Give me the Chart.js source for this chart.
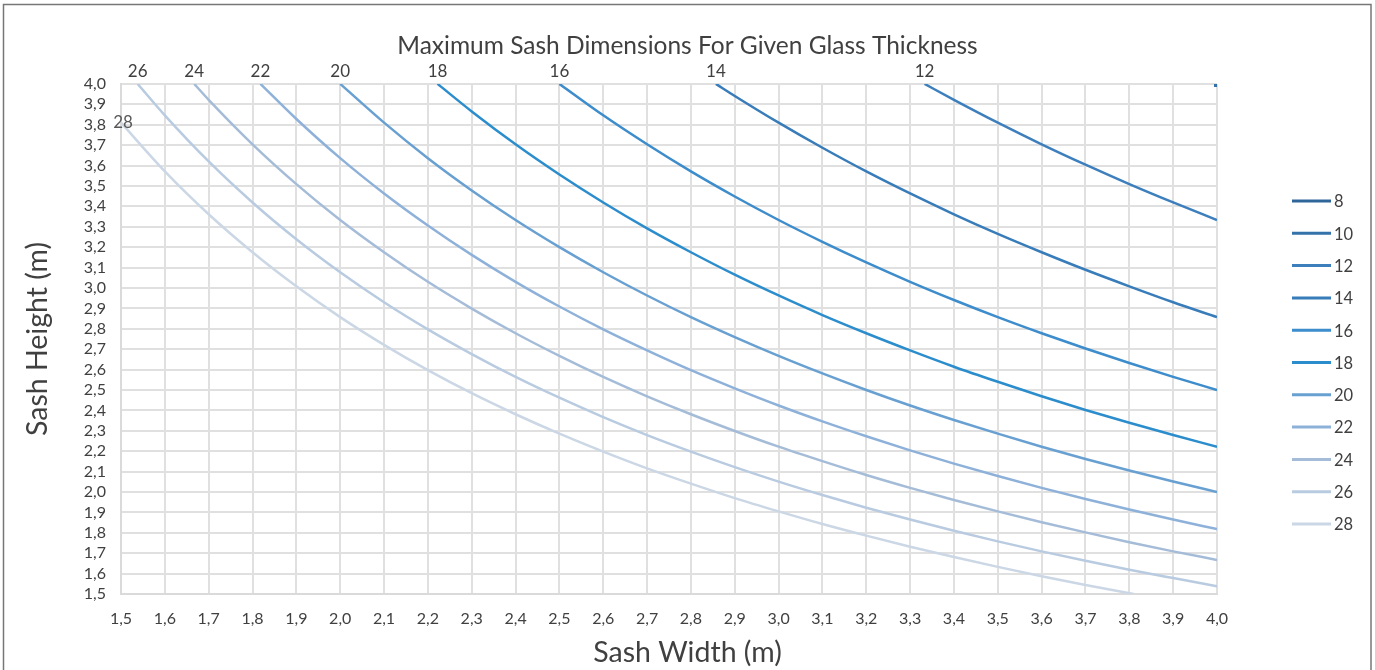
<!DOCTYPE html>
<html>
<head>
<meta charset="utf-8">
<script src="https://cdn.jsdelivr.net/npm/chart.js@4.4.1/dist/chart.umd.min.js"></script>
<style>
    html, body { margin: 0; padding: 0; background: #fff; }
</style>
</head>
<body>
<canvas id="sash_chart" width="1375" height="670"></canvas>
<script>
const sash_chart = document.querySelector('#sash_chart')

// glass thickness per series
const thickness = [8, 10, 12, 14, 16, 18, 20, 22, 24, 26, 28]

// sash width (x) / sash height (y), in metres
const w8 = []
const h8 = []
const w10 = [4.0]
const h10 = [4.0]
const w12 = [3.333, 3.4, 3.5, 3.6, 3.7, 3.8, 3.9, 4.0]
const h12 = [4.000, 3.922, 3.810, 3.704, 3.604, 3.509, 3.419, 3.333]
const w14 = [2.857, 2.9, 3.0, 3.1, 3.2, 3.3, 3.4, 3.5, 3.6, 3.7, 3.8, 3.9, 4.0]
const h14 = [4.000, 3.941, 3.810, 3.687, 3.571, 3.463, 3.361, 3.265, 3.175, 3.089, 3.008, 2.930, 2.857]
const w16 = [2.5, 2.6, 2.7, 2.8, 2.9, 3.0, 3.1, 3.2, 3.3, 3.4, 3.5, 3.6, 3.7, 3.8, 3.9, 4.0]
const h16 = [4.000, 3.846, 3.704, 3.571, 3.448, 3.333, 3.226, 3.125, 3.030, 2.941, 2.857, 2.778, 2.703, 2.632, 2.564, 2.500]
const w18 = [2.222, 2.3, 2.4, 2.5, 2.6, 2.7, 2.8, 2.9, 3.0, 3.1, 3.2, 3.3, 3.4, 3.5, 3.6, 3.7, 3.8, 3.9, 4.0]
const h18 = [4.000, 3.865, 3.704, 3.556, 3.419, 3.292, 3.175, 3.065, 2.963, 2.867, 2.778, 2.694, 2.614, 2.540, 2.469, 2.402, 2.339, 2.279, 2.222]
const w20 = [2.0, 2.1, 2.2, 2.3, 2.4, 2.5, 2.6, 2.7, 2.8, 2.9, 3.0, 3.1, 3.2, 3.3, 3.4, 3.5, 3.6, 3.7, 3.8, 3.9, 4.0]
const h20 = [4.000, 3.810, 3.636, 3.478, 3.333, 3.200, 3.077, 2.963, 2.857, 2.759, 2.667, 2.581, 2.500, 2.424, 2.353, 2.286, 2.222, 2.162, 2.105, 2.051, 2.000]
const w22 = [1.818, 1.9, 2.0, 2.1, 2.2, 2.3, 2.4, 2.5, 2.6, 2.7, 2.8, 2.9, 3.0, 3.1, 3.2, 3.3, 3.4, 3.5, 3.6, 3.7, 3.8, 3.9, 4.0]
const h22 = [4.000, 3.828, 3.636, 3.463, 3.306, 3.162, 3.030, 2.909, 2.797, 2.694, 2.597, 2.508, 2.424, 2.346, 2.273, 2.204, 2.139, 2.078, 2.020, 1.966, 1.914, 1.865, 1.818]
const w24 = [1.667, 1.7, 1.8, 1.9, 2.0, 2.1, 2.2, 2.3, 2.4, 2.5, 2.6, 2.7, 2.8, 2.9, 3.0, 3.1, 3.2, 3.3, 3.4, 3.5, 3.6, 3.7, 3.8, 3.9, 4.0]
const h24 = [4.000, 3.922, 3.704, 3.509, 3.333, 3.175, 3.030, 2.899, 2.778, 2.667, 2.564, 2.469, 2.381, 2.299, 2.222, 2.151, 2.083, 2.020, 1.961, 1.905, 1.852, 1.802, 1.754, 1.709, 1.667]
const w26 = [1.538, 1.6, 1.7, 1.8, 1.9, 2.0, 2.1, 2.2, 2.3, 2.4, 2.5, 2.6, 2.7, 2.8, 2.9, 3.0, 3.1, 3.2, 3.3, 3.4, 3.5, 3.6, 3.7, 3.8, 3.9, 4.0]
const h26 = [4.000, 3.846, 3.620, 3.419, 3.239, 3.077, 2.930, 2.797, 2.676, 2.564, 2.462, 2.367, 2.279, 2.198, 2.122, 2.051, 1.985, 1.923, 1.865, 1.810, 1.758, 1.709, 1.663, 1.619, 1.578, 1.538]
const w28 = [1.5, 1.6, 1.7, 1.8, 1.9, 2.0, 2.1, 2.2, 2.3, 2.4, 2.5, 2.6, 2.7, 2.8, 2.9, 3.0, 3.1, 3.2, 3.3, 3.4, 3.5, 3.6, 3.7, 3.81]
const h28 = [3.810, 3.571, 3.361, 3.175, 3.008, 2.857, 2.721, 2.597, 2.484, 2.381, 2.286, 2.198, 2.116, 2.041, 1.970, 1.905, 1.843, 1.786, 1.732, 1.681, 1.633, 1.587, 1.544, 1.500]

const widths = [w8, w10, w12, w14, w16, w18, w20, w22, w24, w26, w28]
const heights = [h8, h10, h12, h14, h16, h18, h20, h22, h24, h26, h28]

const colors = [
    '#2f6699', '#3572aa', '#3d7fbd', '#387cb9', '#3d8ccb', '#2c8dcc',
    '#68a0d2', '#8eb1da', '#a5bcd8', '#b9cbe0', '#cbd7e5'
]

const fontFamily = 'Lato, "Open Sans", sans-serif'
const textColor = '#404040'
const comma = value => value.toFixed(1).replace('.', ',')

const datasets = thickness.map((t, i) => ({
    label: String(t),
    data: widths[i].map((w, j) => ({ x: w, y: heights[i][j] })),
    borderColor: colors[i],
    backgroundColor: colors[i],
    borderWidth: 2.5,
    cubicInterpolationMode: 'monotone',
    pointRadius: widths[i].length === 1 ? 2.5 : 0,
    pointStyle: 'rect',
    showEndLabel: t >= 12
}))

// series names next to the first point of each curve
const endLabels = {
    id: 'endLabels',
    afterDatasetsDraw(chart) {
        const ctx = chart.ctx
        const area = chart.chartArea
        ctx.save()
        ctx.font = '17px ' + fontFamily
        ctx.textAlign = 'center'
        ctx.textBaseline = 'middle'
        chart.data.datasets.forEach((ds, i) => {
            if (!ds.showEndLabel) return
            const el = chart.getDatasetMeta(i).data[0]
            if (!el) return
            if (el.y <= area.top + 1) {
                ctx.fillStyle = textColor
                ctx.fillText(ds.label, el.x, area.top - 12)
            } else {
                ctx.fillStyle = '#595959'
                ctx.fillText(ds.label, el.x + 2, el.y)
            }
        })
        ctx.restore()
    }
}

// legend on the right as line samples, x-axis title centred on the page
const sideLegend = {
    id: 'sideLegend',
    afterDraw(chart) {
        const ctx = chart.ctx
        const x0 = 1292
        const y0 = 201
        const step = 32.3
        ctx.save()
        ctx.font = '16.5px ' + fontFamily
        ctx.textBaseline = 'middle'
        ctx.textAlign = 'left'
        chart.data.datasets.forEach((ds, i) => {
            const y = y0 + i * step
            ctx.strokeStyle = ds.borderColor
            ctx.lineWidth = 3
            ctx.beginPath()
            ctx.moveTo(x0, y)
            ctx.lineTo(x0 + 39, y)
            ctx.stroke()
            ctx.fillStyle = textColor
            ctx.fillText(ds.label, x0 + 42, y + 1)
        })
        ctx.font = '28.5px ' + fontFamily
        ctx.textAlign = 'center'
        ctx.fillText('Sash Width (m)', chart.width / 2, 653)
        ctx.restore()
    }
}

// outer frame of the chart
const frame = {
    id: 'frame',
    beforeDraw(chart) {
        const ctx = chart.ctx
        ctx.save()
        ctx.fillStyle = '#ffffff'
        ctx.fillRect(0, 0, chart.width, chart.height)
        ctx.strokeStyle = '#777777'
        ctx.lineWidth = 1.5
        ctx.strokeRect(3.5, 4.5, 1367.5, 700)
        ctx.restore()
    }
}

const options_sash = {
    responsive: false,
    animation: false,
    layout: {
        padding: 0
    },
    plugins: {
        legend: { display: false },
        tooltip: { enabled: false },
        title: {
            display: true,
            text: 'Maximum Sash Dimensions For Given Glass Thickness',
            color: textColor,
            font: { family: fontFamily, size: 24.5, weight: 'normal' },
            padding: { top: 31, bottom: 23.5 }
        }
    },
    scales: {
        x: {
            type: 'linear',
            min: 1.5,
            max: 4.0,
            afterFit: scale => { scale.height = 76 },
            ticks: {
                stepSize: 0.1,
                autoSkip: false,
                maxRotation: 0,
                padding: 15,
                color: textColor,
                font: { family: fontFamily, size: 16 },
                callback: comma
            },
            grid: { color: '#e0e0e0', lineWidth: 2, drawTicks: false },
            border: { color: '#dadada', width: 2 }
        },
        y: {
            type: 'linear',
            min: 1.5,
            max: 4.0,
            afterFit: scale => { scale.width = 121 },
            ticks: {
                stepSize: 0.1,
                autoSkip: false,
                padding: 15,
                color: textColor,
                font: { family: fontFamily, size: 16 },
                callback: comma
            },
            grid: { color: '#e0e0e0', lineWidth: 2, drawTicks: false },
            border: { color: '#dadada', width: 2 },
            title: {
                display: true,
                text: 'Sash Height (m)',
                color: textColor,
                font: { family: fontFamily, size: 28.5 },
                padding: { top: 21, bottom: 0 }
            }
        },
        // empty box on the right that keeps room for the legend
        side: {
            type: 'linear',
            position: 'right',
            afterFit: scale => { scale.width = 158 },
            ticks: { display: false },
            grid: { display: false },
            border: { display: false }
        }
    }
}

new Chart(sash_chart, {
    type: 'line',
    data: { datasets: datasets },
    options: options_sash,
    plugins: [frame, endLabels, sideLegend]
})
</script>
</body>
</html>
